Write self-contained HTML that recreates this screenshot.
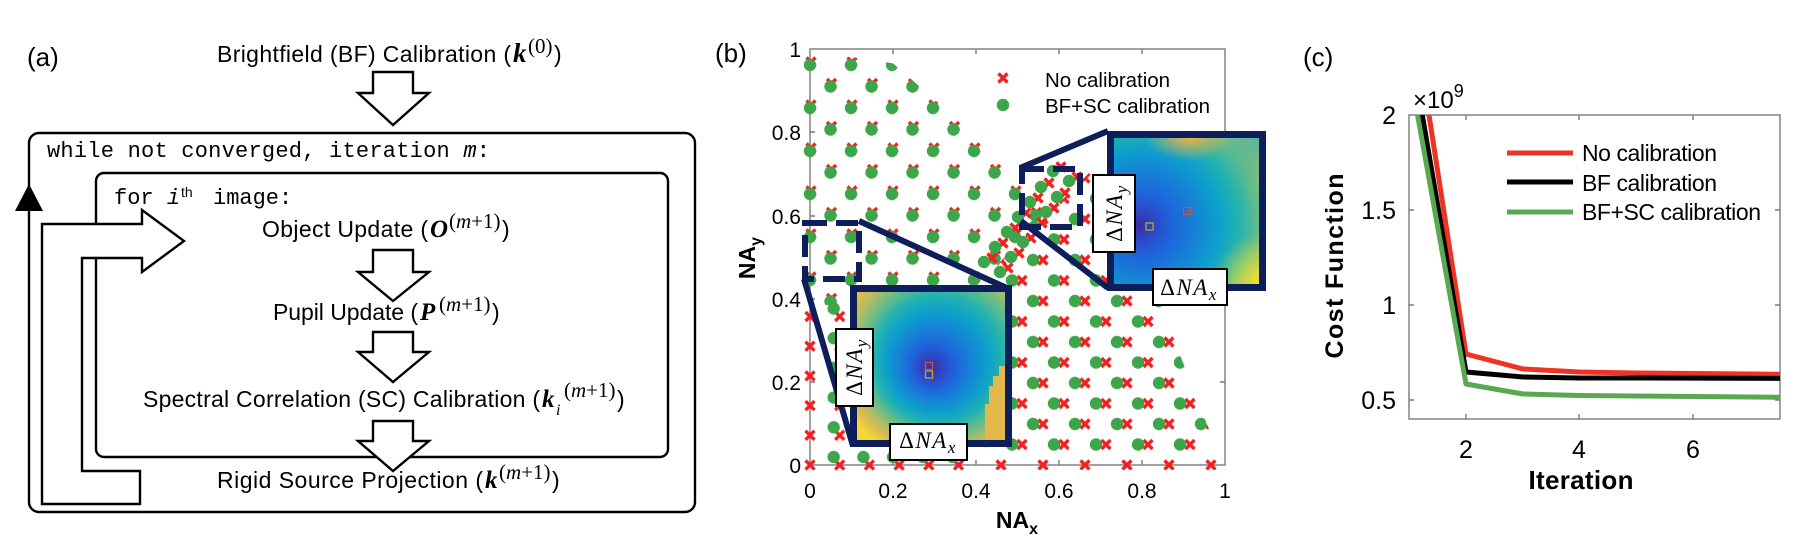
<!DOCTYPE html>
<html><head><meta charset="utf-8">
<style>html,body{margin:0;padding:0;background:#fff;}svg{display:block;}</style>
</head>
<body>
<svg width="1808" height="544" viewBox="0 0 1808 544" xmlns="http://www.w3.org/2000/svg" xmlns:xlink="http://www.w3.org/1999/xlink" font-family="'Liberation Sans', Arial, sans-serif">
<defs>
  <path id="cr" d="M-4.5,-4.5L4.5,4.5M-4.5,4.5L4.5,-4.5" stroke="#f22020" stroke-width="3.4" fill="none"/>
  <circle id="dt" r="6.2" fill="#3da64a"/>
  <pattern id="pyc" patternUnits="userSpaceOnUse" x="800.5" y="51.25" width="41" height="43">
    <path d="M6,6.25L15,15.25M6,15.25L15,6.25M26.5,27.75L35.5,36.75M26.5,36.75L35.5,27.75" stroke="#f22020" stroke-width="3.4" fill="none"/>
  </pattern>
  <pattern id="pyd" patternUnits="userSpaceOnUse" x="799.5" y="54.25" width="41" height="43">
    <circle cx="10.5" cy="10.75" r="6.2" fill="#3da64a"/><circle cx="31" cy="32.25" r="6.2" fill="#3da64a"/>
  </pattern>
  <pattern id="pxc" patternUnits="userSpaceOnUse" x="1200.5" y="434.75" width="42" height="41">
    <path d="M6,25.75L15,34.75M6,34.75L15,25.75M27,5.25L36,14.25M27,14.25L36,5.25" stroke="#f22020" stroke-width="3.4" fill="none"/>
  </pattern>
  <pattern id="pxd" patternUnits="userSpaceOnUse" x="1190.5" y="434.75" width="42" height="41">
    <circle cx="10.5" cy="30.25" r="6.2" fill="#3da64a"/><circle cx="31.5" cy="9.75" r="6.2" fill="#3da64a"/>
  </pattern>
  <pattern id="pcc" patternUnits="userSpaceOnUse" x="795.15" y="450.15" width="29.7" height="29.7">
    <path d="M10.35,10.35L19.35,19.35M10.35,19.35L19.35,10.35" stroke="#f22020" stroke-width="3.4" fill="none"/>
  </pattern>
  <pattern id="pcd" patternUnits="userSpaceOnUse" x="789.15" y="442.15" width="29.7" height="29.7">
    <circle cx="14.85" cy="14.85" r="6.2" fill="#3da64a"/>
  </pattern>

  <clipPath id="circ"><circle cx="810" cy="465" r="410"/></clipPath>
  <clipPath id="cy"><polygon points="803,40 866,40 1004,160 1050,212 957,305 803,305"/></clipPath>
  <clipPath id="cx"><polygon points="985,277 1098,164 1107,164 1107,290 1155,290 1225,470 985,470"/></clipPath>
  <clipPath id="cxd"><polygon points="985,277 1098,164 1107,164 1107,290 1155,290 1219,456 985,456"/></clipPath>
  <clipPath id="cc"><rect x="803" y="308" width="165" height="164"/></clipPath>
  <clipPath id="ccd"><rect x="822" y="300" width="140" height="165"/></clipPath>
  <clipPath id="pc"><rect x="1409" y="115" width="371" height="304"/></clipPath>
  <clipPath id="hm1"><rect x="857" y="292" width="148" height="148"/></clipPath>
  <clipPath id="hm2"><rect x="1114" y="138" width="145" height="146"/></clipPath>

  <radialGradient id="g1" gradientUnits="userSpaceOnUse" cx="945" cy="352" r="112" fx="930" fy="370">
    <stop offset="0" stop-color="#3a2d9c"/>
    <stop offset="0.1" stop-color="#2f45c4"/>
    <stop offset="0.2" stop-color="#1e64dc"/>
    <stop offset="0.32" stop-color="#1681d6"/>
    <stop offset="0.45" stop-color="#0c9fcc"/>
    <stop offset="0.57" stop-color="#22b2b0"/>
    <stop offset="0.68" stop-color="#60bc8c"/>
    <stop offset="0.8" stop-color="#acbd68"/>
    <stop offset="0.9" stop-color="#dbb952"/>
    <stop offset="1" stop-color="#f4d53a"/>
  </radialGradient>
  <radialGradient id="g2" gradientUnits="userSpaceOnUse" cx="1148" cy="222" r="155" fx="1140" fy="226">
    <stop offset="0" stop-color="#3a2d9c"/>
    <stop offset="0.08" stop-color="#2f45c4"/>
    <stop offset="0.2" stop-color="#1e64dc"/>
    <stop offset="0.34" stop-color="#1681d6"/>
    <stop offset="0.48" stop-color="#0c9fcc"/>
    <stop offset="0.6" stop-color="#22b2b0"/>
    <stop offset="0.72" stop-color="#60bc8c"/>
    <stop offset="0.84" stop-color="#acbd68"/>
    <stop offset="0.93" stop-color="#dbb952"/>
    <stop offset="1" stop-color="#f4d53a"/>
  </radialGradient>
  <radialGradient id="oy" gradientUnits="userSpaceOnUse" cx="1262" cy="284" r="50">
    <stop offset="0" stop-color="#f6e22e" stop-opacity="1"/>
    <stop offset="1" stop-color="#f6e22e" stop-opacity="0"/>
  </radialGradient>
  <radialGradient id="oo" gradientUnits="userSpaceOnUse" cx="1190" cy="138" r="45" gradientTransform="translate(0,69) scale(1,0.5)">
    <stop offset="0" stop-color="#e6b44a" stop-opacity="1"/>
    <stop offset="1" stop-color="#e6b44a" stop-opacity="0"/>
  </radialGradient>
  <radialGradient id="ot" gradientUnits="userSpaceOnUse" cx="1259" cy="138" r="45">
    <stop offset="0" stop-color="#40b4a8" stop-opacity="0.9"/>
    <stop offset="1" stop-color="#40b4a8" stop-opacity="0"/>
  </radialGradient>
</defs>

<rect x="0" y="0" width="1808" height="544" fill="#fff"/>

<!-- ================= PANEL (a) ================= -->
<text x="27" y="66" font-size="26">(a)</text>

<text x="217" y="62" font-size="23" textLength="294">Brightfield (BF) Calibration (</text>
<text x="513" y="62" font-family="'Liberation Serif', serif" font-weight="bold" font-style="italic" font-size="27">k</text>
<text x="528" y="53" font-family="'Liberation Serif', serif" font-size="21">(0)</text>
<text x="554" y="62" font-size="23">)</text>

<polygon points="373,72 413,72 413,93 429,93 393,125 358,93 373,93" fill="#fff" stroke="#000" stroke-width="2.4"/>

<rect x="29" y="133" width="666" height="379" rx="10" fill="none" stroke="#000" stroke-width="2.4"/>
<rect x="96" y="173" width="572" height="284" rx="8" fill="none" stroke="#000" stroke-width="2.4"/>

<text x="47" y="157" font-family="'Liberation Mono', 'DejaVu Sans Mono', monospace" font-size="22" textLength="443">while not converged, iteration <tspan font-style="italic">m</tspan>:</text>
<text x="114" y="204" font-family="'Liberation Mono', 'DejaVu Sans Mono', monospace" font-size="22">for <tspan font-style="italic">i</tspan></text>
<text x="181" y="197" font-size="14">th</text>
<text x="213" y="204" font-family="'Liberation Mono', 'DejaVu Sans Mono', monospace" font-size="22">image:</text>

<text x="262" y="237" font-size="23" textLength="166">Object Update (</text>
<text x="430" y="237" font-family="'Liberation Serif', serif" font-weight="bold" font-style="italic" font-size="25">O</text>
<text x="449" y="228" font-family="'Liberation Serif', serif" font-size="21">(<tspan font-style="italic">m</tspan>+1)</text>
<text x="502" y="237" font-size="23">)</text>

<text x="273" y="320" font-size="23" textLength="145">Pupil Update (</text>
<text x="420" y="320" font-family="'Liberation Serif', serif" font-weight="bold" font-style="italic" font-size="25">P</text>
<text x="439" y="311" font-family="'Liberation Serif', serif" font-size="21">(<tspan font-style="italic">m</tspan>+1)</text>
<text x="492" y="320" font-size="23">)</text>

<text x="143" y="407" font-size="23" textLength="397">Spectral Correlation (SC) Calibration (</text>
<text x="542" y="407" font-family="'Liberation Serif', serif" font-weight="bold" font-style="italic" font-size="25">k</text>
<text x="556" y="415" font-family="'Liberation Serif', serif" font-style="italic" font-size="16">i</text>
<text x="564" y="397" font-family="'Liberation Serif', serif" font-size="21">(<tspan font-style="italic">m</tspan>+1)</text>
<text x="617" y="407" font-size="23">)</text>

<text x="217" y="488" font-size="23" textLength="266">Rigid Source Projection (</text>
<text x="485" y="488" font-family="'Liberation Serif', serif" font-weight="bold" font-style="italic" font-size="25">k</text>
<text x="499" y="479" font-family="'Liberation Serif', serif" font-size="21">(<tspan font-style="italic">m</tspan>+1)</text>
<text x="552" y="488" font-size="23">)</text>

<polygon points="373,250 413,250 413,272 429,272 393,301 358,272 373,272" fill="#fff" stroke="#000" stroke-width="2.4"/>
<polygon points="373,332 413,332 413,352 429,352 393,382 358,352 373,352" fill="#fff" stroke="#000" stroke-width="2.4"/>
<polygon points="373,421 413,421 413,441 429,441 393,471 358,441 373,441" fill="#fff" stroke="#000" stroke-width="2.4"/>

<polygon points="42,224 142,224 142,210 184,241 142,272 142,258 82,258 82,471 140,471 140,504 42,504" fill="#fff" stroke="#000" stroke-width="2.4" stroke-linejoin="miter"/>
<polygon points="29,184 15,211 43,211" fill="#000"/>

<!-- ================= PANEL (b) ================= -->
<text x="715" y="62" font-size="26">(b)</text>

<rect x="810" y="49" width="415" height="416" fill="none" stroke="#7a7a7a" stroke-width="1.4"/>
<path d="M893,465v-5M976,465v-5M1059,465v-5M1142,465v-5M893,49v5M976,49v5M1059,49v5M1142,49v5M810,132h5M810,216h5M810,299h5M810,382h5M1225,132h-5M1225,216h-5M1225,299h-5M1225,382h-5" stroke="#7a7a7a" stroke-width="1.4" fill="none"/>

<!-- markers -->
<g clip-path="url(#circ)">
  <rect x="795" y="40" width="450" height="440" fill="url(#pyc)" clip-path="url(#cy)"/>
  <rect x="795" y="40" width="450" height="440" fill="url(#pyd)" clip-path="url(#cy)"/>
</g>
<rect x="980" y="20" width="260" height="455" fill="url(#pxc)" clip-path="url(#cx)"/>
<rect x="980" y="20" width="260" height="455" fill="url(#pxd)" clip-path="url(#cxd)"/>
<rect x="795" y="300" width="180" height="175" fill="url(#pcc)" clip-path="url(#cc)"/>
<rect x="795" y="300" width="180" height="175" fill="url(#pcd)" clip-path="url(#ccd)"/>

<!-- diagonal band markers -->
<g>
  <use xlink:href="#cr" href="#cr" x="1008" y="268"/>
  <use xlink:href="#cr" href="#cr" x="1019" y="253"/>
  <use xlink:href="#cr" href="#cr" x="1031" y="238"/>
  <use xlink:href="#cr" href="#cr" x="1042" y="223"/>
  <use xlink:href="#cr" href="#cr" x="1054" y="208"/>
  <use xlink:href="#cr" href="#cr" x="1065" y="193"/>
  <use xlink:href="#cr" href="#cr" x="1077" y="177"/>
  <use xlink:href="#cr" href="#cr" x="992" y="258"/>
  <use xlink:href="#cr" href="#cr" x="1003" y="243"/>
  <use xlink:href="#cr" href="#cr" x="1015" y="228"/>
  <use xlink:href="#cr" href="#cr" x="1026" y="213"/>
  <use xlink:href="#cr" href="#cr" x="1038" y="198"/>
  <use xlink:href="#cr" href="#cr" x="1049" y="183"/>
  <use xlink:href="#cr" href="#cr" x="1061" y="167"/>
  <use xlink:href="#dt" href="#dt" x="1000" y="272"/>
  <use xlink:href="#dt" href="#dt" x="1011" y="257"/>
  <use xlink:href="#dt" href="#dt" x="1023" y="242"/>
  <use xlink:href="#dt" href="#dt" x="1034" y="227"/>
  <use xlink:href="#dt" href="#dt" x="1046" y="212"/>
  <use xlink:href="#dt" href="#dt" x="1057" y="197"/>
  <use xlink:href="#dt" href="#dt" x="1069" y="181"/>
  <use xlink:href="#dt" href="#dt" x="984" y="262"/>
  <use xlink:href="#dt" href="#dt" x="995" y="247"/>
  <use xlink:href="#dt" href="#dt" x="1007" y="232"/>
  <use xlink:href="#dt" href="#dt" x="1018" y="217"/>
  <use xlink:href="#dt" href="#dt" x="1030" y="202"/>
  <use xlink:href="#dt" href="#dt" x="1041" y="187"/>
  <use xlink:href="#dt" href="#dt" x="1053" y="171"/>
</g>

<!-- tick labels -->
<g font-size="21" text-anchor="end" fill="#000">
  <text x="801" y="57">1</text>
  <text x="801" y="140">0.8</text>
  <text x="801" y="224">0.6</text>
  <text x="801" y="307">0.4</text>
  <text x="801" y="390">0.2</text>
  <text x="801" y="473">0</text>
</g>
<g font-size="21" text-anchor="middle" fill="#000">
  <text x="810" y="498">0</text>
  <text x="893" y="498">0.2</text>
  <text x="976" y="498">0.4</text>
  <text x="1059" y="498">0.6</text>
  <text x="1142" y="498">0.8</text>
  <text x="1225" y="498">1</text>
</g>
<text transform="translate(755,258) rotate(-90)" text-anchor="middle" font-size="23" font-weight="bold">NA<tspan font-size="16" dy="6">y</tspan></text>
<text x="1017" y="528" text-anchor="middle" font-size="23" font-weight="bold">NA<tspan font-size="16" dy="6">x</tspan></text>

<!-- connectors & dashed squares -->
<g stroke="#0e1e5b" stroke-width="6" fill="none">
  <line x1="859" y1="221" x2="1009" y2="289"/>
  <line x1="804" y1="279" x2="853" y2="446"/>
  <line x1="1020" y1="168" x2="1108" y2="131"/>
  <line x1="1021" y1="221" x2="1108" y2="288"/>
  <rect x="805" y="223" width="54" height="56" stroke-dasharray="22 9"/>
  <rect x="1022" y="169" width="58" height="58" stroke-dasharray="22 9"/>
</g>

<!-- bottom-left inset -->
<g clip-path="url(#hm1)">
  <rect x="857" y="292" width="148" height="148" fill="url(#g1)"/>
  <polygon fill="#e2b84c" points="1005,366 999,366 999,376 993,376 993,386 989,386 989,404 985,404 985,440 1005,440"/>
</g>
<rect x="853.5" y="288.5" width="155" height="155" fill="none" stroke="#0e1e5b" stroke-width="7"/>
<rect x="925.5" y="362.5" width="7" height="7" fill="none" stroke="#e24a3c" stroke-width="1.3"/>
<rect x="925.5" y="371" width="7" height="7" fill="none" stroke="#a9b22a" stroke-width="1.3"/>

<!-- top-right inset -->
<g clip-path="url(#hm2)">
  <rect x="1114" y="138" width="145" height="146" fill="url(#g2)"/>
  <rect x="1114" y="138" width="145" height="146" fill="url(#ot)"/>
  <rect x="1114" y="138" width="145" height="146" fill="url(#oo)"/>
  <rect x="1114" y="138" width="145" height="146" fill="url(#oy)"/>
</g>
<rect x="1110.5" y="134.5" width="152" height="153" fill="none" stroke="#0e1e5b" stroke-width="7"/>
<rect x="1183.5" y="207.5" width="7" height="7" fill="none" stroke="#e24a3c" stroke-width="1.3"/>
<rect x="1146" y="223" width="7" height="7" fill="none" stroke="#a9b22a" stroke-width="1.3"/>

<!-- label boxes -->
<g fill="#fff" stroke="#000" stroke-width="2">
  <rect x="836" y="329" width="37" height="77"/>
  <rect x="890" y="424" width="77" height="36"/>
  <rect x="1093" y="175" width="42" height="77"/>
  <rect x="1153" y="269" width="74" height="36"/>
</g>
<g font-family="'Liberation Serif', 'DejaVu Serif', serif" font-size="23" fill="#000">
  <text transform="translate(862,367) rotate(-90)" text-anchor="middle" letter-spacing="1.5">Δ<tspan font-style="italic">NA</tspan><tspan font-style="italic" font-size="17" dy="5">y</tspan></text>
  <text x="928" y="448" text-anchor="middle" letter-spacing="1.5">Δ<tspan font-style="italic">NA</tspan><tspan font-style="italic" font-size="17" dy="5">x</tspan></text>
  <text transform="translate(1122,213) rotate(-90)" text-anchor="middle" letter-spacing="1.5">Δ<tspan font-style="italic">NA</tspan><tspan font-style="italic" font-size="17" dy="5">y</tspan></text>
  <text x="1189" y="295" text-anchor="middle" letter-spacing="1.5">Δ<tspan font-style="italic">NA</tspan><tspan font-style="italic" font-size="17" dy="5">x</tspan></text>
</g>

<!-- legend b -->
<path d="M998.5,73.5L1007.5,82.5M998.5,82.5L1007.5,73.5" stroke="#f22020" stroke-width="3.4" fill="none"/>
<circle cx="1003" cy="105" r="6.2" fill="#3da64a"/>
<text x="1045" y="87" font-size="20.5" textLength="125">No calibration</text>
<text x="1045" y="113" font-size="20.5" textLength="165">BF+SC calibration</text>

<!-- ================= PANEL (c) ================= -->
<text x="1303" y="66" font-size="26">(c)</text>
<text x="1413" y="108" font-size="24">×10<tspan font-size="18" dy="-11">9</tspan></text>

<rect x="1409" y="115" width="371" height="304" fill="none" stroke="#7a7a7a" stroke-width="1.4"/>
<path d="M1466,419v-5M1579,419v-5M1693,419v-5M1466,115v5M1579,115v5M1693,115v5M1409,210h5M1409,305h5M1409,400h5M1780,210h-5M1780,305h-5M1780,400h-5" stroke="#7a7a7a" stroke-width="1.4" fill="none"/>

<g clip-path="url(#pc)" fill="none" stroke-width="5" stroke-linejoin="round">
  <polyline points="1409,-14 1466,354 1523,369 1579,372 1636,373 1693,373.5 1750,374 1810,374.5" stroke="#ee3322"/>
  <polyline points="1409,37 1466,372 1523,377 1579,378 1636,378 1810,378.5" stroke="#000"/>
  <polyline points="1409,67.5 1466,384 1523,394 1579,395.5 1636,396 1693,396.5 1750,397 1810,397.5" stroke="#5aa852"/>
</g>

<g font-size="25" text-anchor="end">
  <text x="1396" y="124">2</text>
  <text x="1396" y="219">1.5</text>
  <text x="1396" y="314">1</text>
  <text x="1396" y="409">0.5</text>
</g>
<g font-size="25" text-anchor="middle">
  <text x="1466" y="458">2</text>
  <text x="1579" y="458">4</text>
  <text x="1693" y="458">6</text>
</g>
<text transform="translate(1343,266) rotate(-90)" text-anchor="middle" font-size="25" font-weight="bold" textLength="185">Cost Function</text>
<text x="1581" y="489" text-anchor="middle" font-size="26" font-weight="bold" textLength="105">Iteration</text>

<!-- legend c -->
<line x1="1507" y1="153" x2="1573" y2="153" stroke="#ee3322" stroke-width="5"/>
<line x1="1507" y1="182" x2="1573" y2="182" stroke="#000" stroke-width="5"/>
<line x1="1507" y1="212" x2="1573" y2="212" stroke="#5aa852" stroke-width="5"/>
<text x="1582" y="161" font-size="23" textLength="135">No calibration</text>
<text x="1582" y="191" font-size="23" textLength="135">BF calibration</text>
<text x="1582" y="220" font-size="23" textLength="179">BF+SC calibration</text>
</svg>
</body></html>
